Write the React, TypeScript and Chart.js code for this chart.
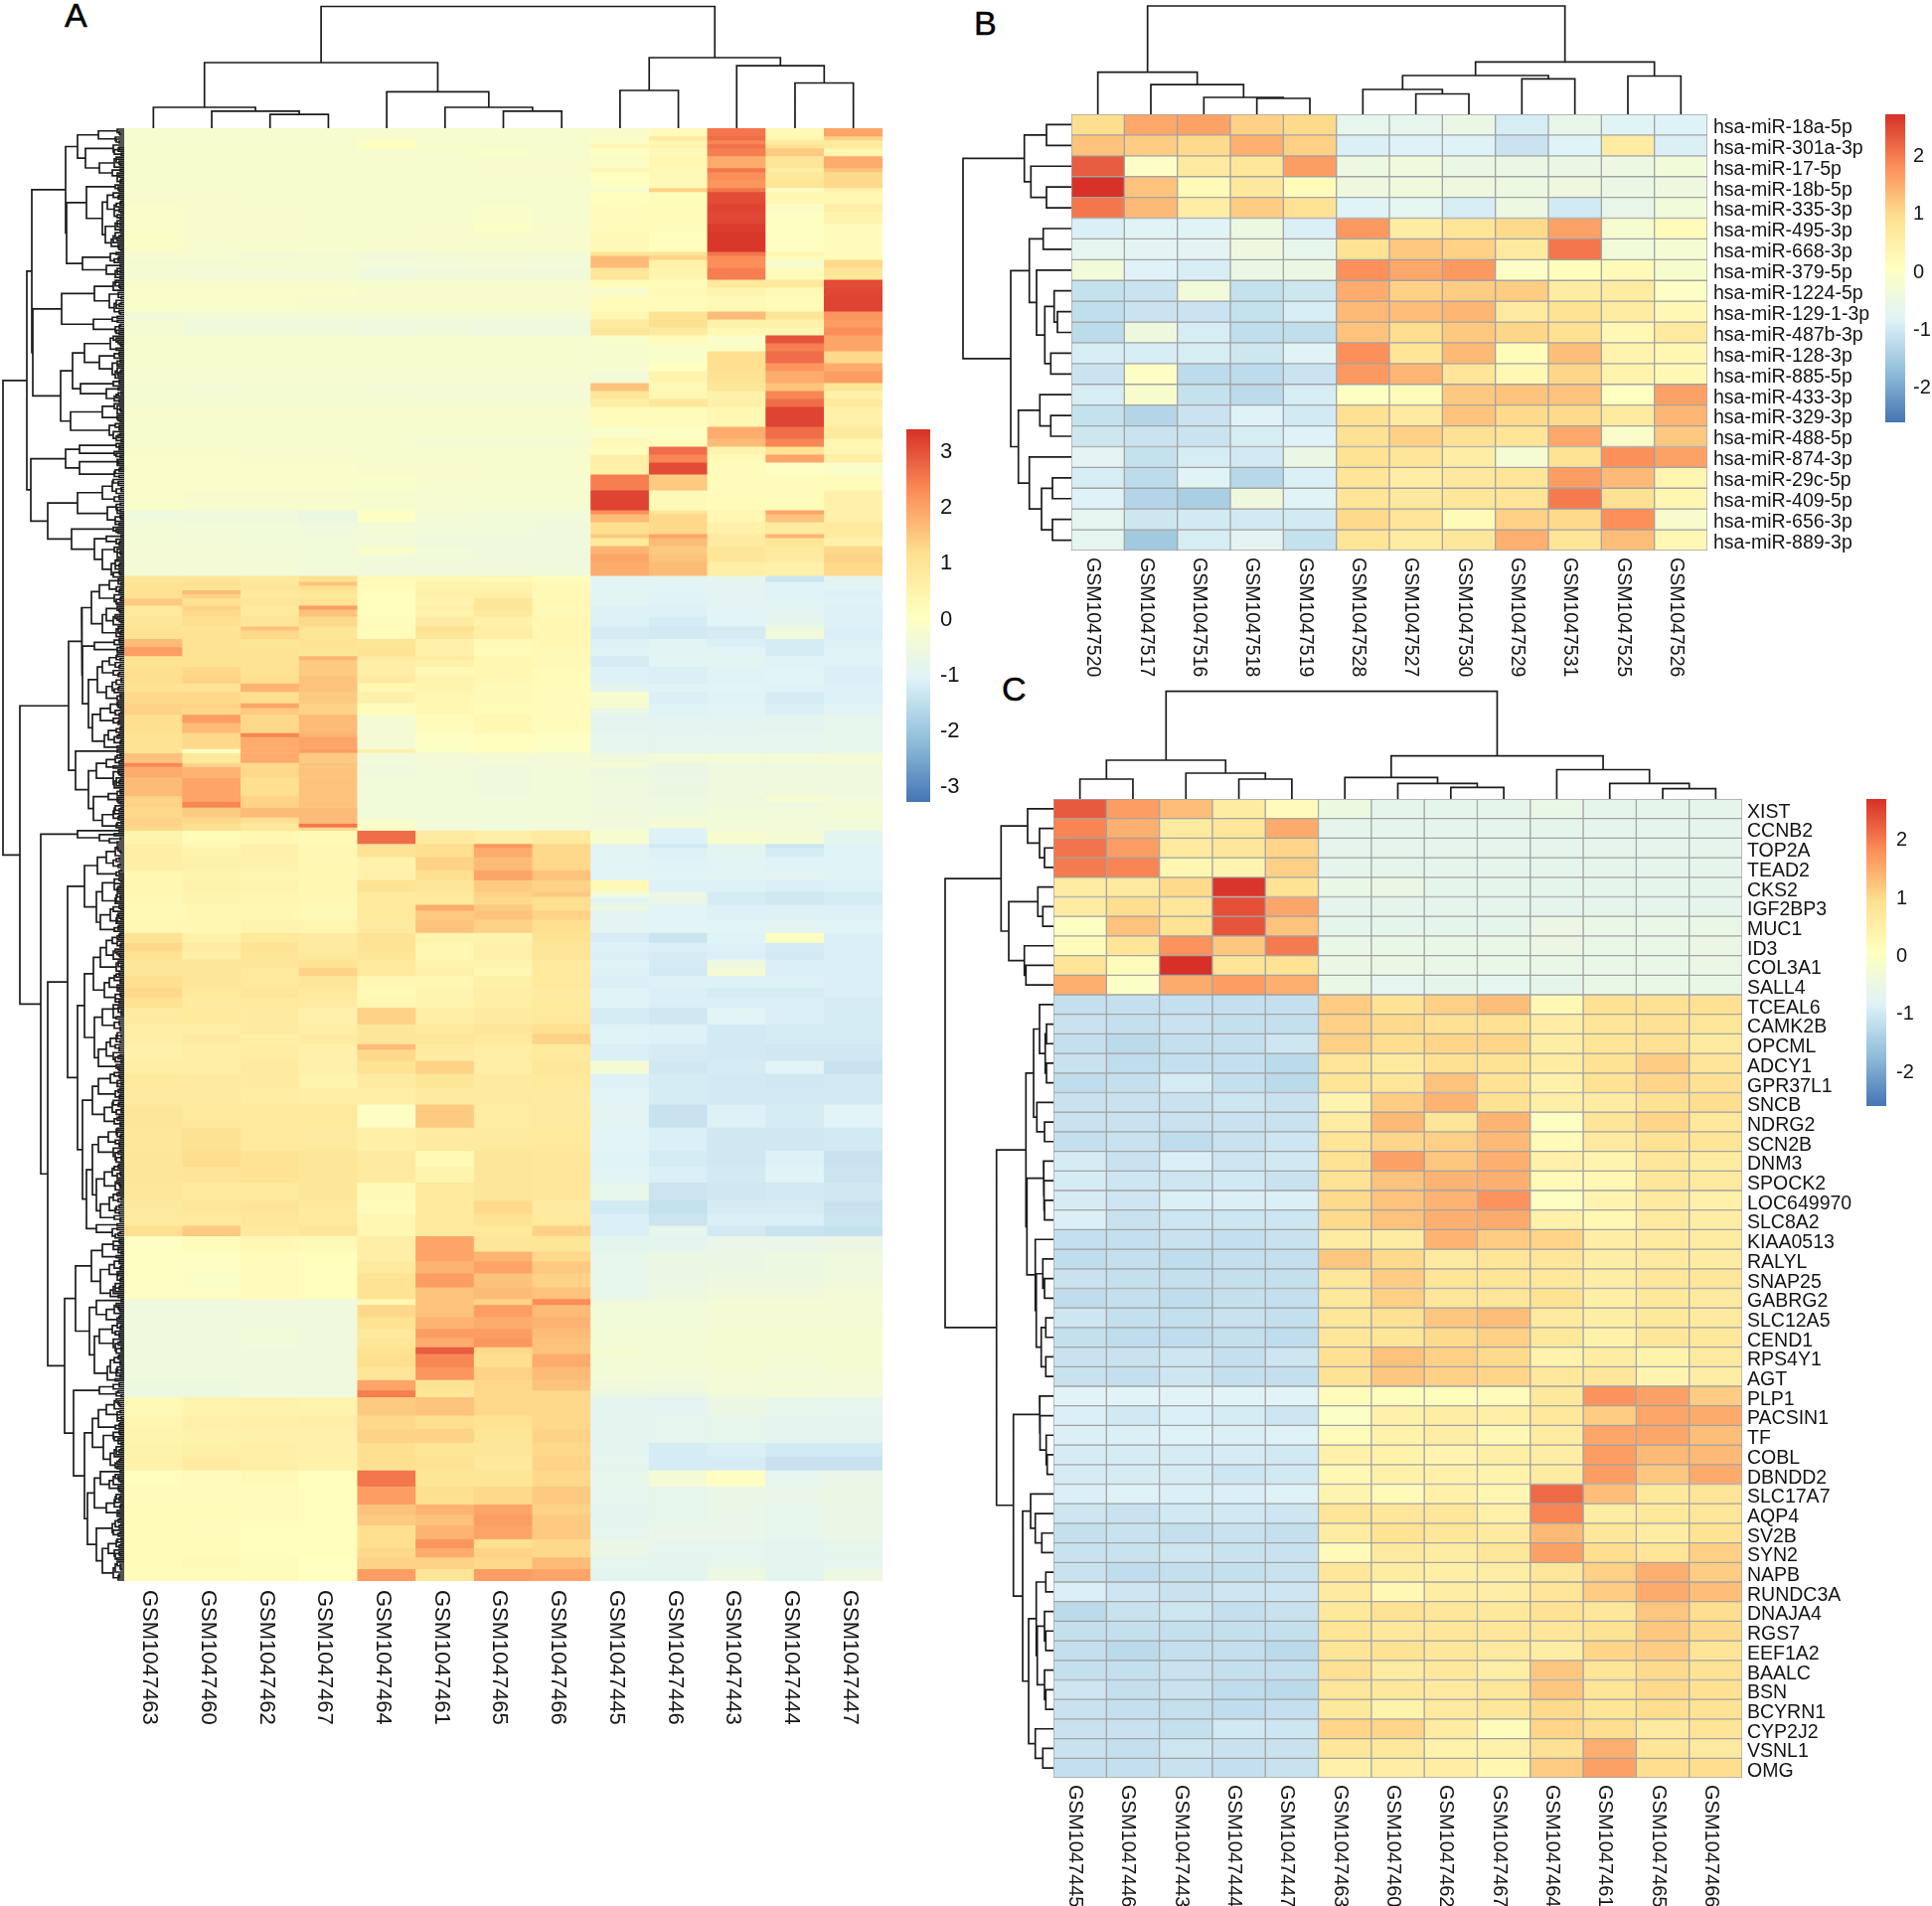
import React, { useEffect, useRef } from "react";
import { Chart, registerables } from "chart.js";
Chart.register(...registerables);

const FONT = '"Liberation Sans", Arial, sans-serif';
const PALETTE = ["#4575B4", "#91BFDB", "#E0F3F8", "#FFFFBF", "#FEE090", "#FC8D59", "#D73027"];

// ---------- Panel A ----------
const aColumns = ["GSM1047463","GSM1047460","GSM1047462","GSM1047467","GSM1047464","GSM1047461","GSM1047465","GSM1047466","GSM1047445","GSM1047446","GSM1047443","GSM1047444","GSM1047447"];
const aColumnGaps = [21,17.2,13.8,66,36.7,21,17.2,122.5,38,71,62.8,45.5];
// each band: [height in rows, 13 z-scores]
const aBandsUp = [
[2,-.3,-.3,-.3,-.3,-.3,-.3,-.3,-.3,-.25,.1,2.5,.2,1.9],
[1,-.3,-.3,-.3,-.3,-.2,-.3,-.3,-.3,-.1,.7,2.6,.3,1.3],
[1,-.3,-.3,-.3,-.3,-.1,-.3,-.3,-.3,-.15,.3,2.3,.7,.7],
[1,-.3,-.3,-.3,-.3,.05,-.2,-.3,-.3,.3,.4,2.55,1.0,.8],
[2,-.3,-.3,-.3,-.3,-.3,-.3,-.2,-.3,-.1,.2,2.4,1.4,.3],
[3,-.3,-.3,-.3,-.3,-.3,-.3,-.25,-.25,-.15,.3,1.8,.9,1.8],
[1,-.3,-.3,-.3,-.3,-.3,-.3,-.25,-.25,.3,.2,2.5,.6,1.5],
[2,-.3,-.3,-.3,-.3,-.3,-.3,-.25,-.25,.0,.2,2.2,.8,1.2],
[2,-.3,-.3,-.3,-.3,-.3,-.3,-.3,-.3,-.1,.2,2.1,.9,1.2],
[1,-.3,-.3,-.3,-.3,-.3,-.3,-.3,-.3,-.3,1.3,2.5,-.1,.5],
[3,-.25,-.25,-.3,-.3,-.3,-.3,-.3,-.3,.05,.1,3.0,.3,.3],
[2,-.2,-.25,-.25,-.3,-.3,-.3,-.2,-.3,.1,.15,3.1,-.15,.6],
[3,-.2,-.25,-.25,-.3,-.3,-.3,-.2,-.3,.1,.15,3.05,-.05,.4],
[2,-.2,-.25,-.25,-.3,-.3,-.25,-.1,-.25,.1,.1,3.2,-.05,.1],
[5,-.15,-.25,-.25,-.3,-.25,-.25,-.25,-.25,.2,.05,3.25,-.1,.1],
[1,-.33,-.33,-.43,-.38,-.52,-.48,-.43,-.48,1.0,1.0,2.5,.3,.1],
[1,-.33,-.33,-.43,-.38,-.52,-.48,-.43,-.48,1.6,1.3,2.2,.1,.1],
[2,-.38,-.38,-.38,-.38,-.48,-.48,-.43,-.48,1.6,.5,2.2,-.3,1.2],
[3,-.38,-.43,-.43,-.43,-.58,-.52,-.52,-.52,.9,.4,2.4,.1,.9],
[2,-.25,-.25,-.25,-.25,-.3,-.3,-.3,-.3,.15,.1,.8,.8,3.0],
[2,-.2,-.2,-.2,-.2,-.25,-.25,-.25,-.25,-.25,.2,.4,.2,3.05],
[4,-.2,-.2,-.2,-.25,-.25,-.25,-.25,-.25,.1,.1,.2,.15,3.1],
[2,-.52,-.48,-.48,-.48,-.48,-.48,-.48,-.48,.3,1.0,1.6,.9,2.1],
[2,-.38,-.52,-.52,-.52,-.58,-.52,-.58,-.58,.7,1.1,.5,.5,2.0],
[2,-.38,-.52,-.52,-.52,-.58,-.52,-.58,-.58,.9,.7,.3,.3,2.2],
[2,-.3,-.3,-.3,-.3,-.3,-.3,-.3,-.3,-.2,.1,-.2,2.9,1.9],
[2,-.3,-.3,-.3,-.3,-.3,-.3,-.3,-.3,-.3,-.2,-.1,2.4,1.9],
[3,-.3,-.3,-.3,-.3,-.3,-.3,-.3,-.3,-.3,-.2,1.1,2.6,1.2],
[2,-.3,-.3,-.3,-.3,-.3,-.3,-.3,-.3,-.3,.0,1.1,2.1,1.8],
[3,-.33,-.33,-.33,-.33,-.33,-.33,-.33,-.33,-.48,.4,1.0,1.8,2.0],
[2,-.38,-.43,-.38,-.38,-.43,-.43,-.43,-.43,1.5,.2,.9,1.5,.9],
[2,-.38,-.38,-.38,-.38,-.38,-.43,-.43,-.43,.9,.3,.5,2.3,.5],
[2,-.38,-.38,-.38,-.38,-.38,-.38,-.38,-.38,.6,.9,.5,2.6,.8],
[5,-.25,-.25,-.25,-.25,-.25,-.25,-.25,-.25,.1,.1,.3,3.1,.5],
[3,-.3,-.3,-.3,-.3,-.3,-.3,-.3,-.3,-.2,-.1,1.8,2.6,.8],
[2,-.3,-.3,-.3,-.3,-.3,-.38,-.38,-.38,.2,.1,1.6,2.3,.3],
[2,-.25,-.25,-.25,-.25,-.3,-.3,-.3,-.3,.1,2.6,.4,1.0,.3],
[2,-.2,-.2,-.25,-.25,-.25,-.3,-.3,-.3,.6,2.3,.2,1.9,.6],
[3,-.2,-.2,-.2,-.2,-.25,-.25,-.25,-.25,.5,3.0,.1,-.1,-.2],
[4,-.2,-.2,-.2,-.2,-.2,-.25,-.3,-.3,2.4,1.4,.1,.1,.1],
[5,-.2,-.25,-.25,-.25,-.3,-.33,-.33,-.33,3.1,.2,.1,.1,.5],
[1,-.6,-.6,-.6,-.7,-.1,-.45,-.5,-.5,2.2,.9,.3,1.9,.5],
[2,-.6,-.6,-.6,-.7,-.1,-.45,-.5,-.5,1.6,1.2,.3,1.5,.5],
[3,-.45,-.5,-.5,-.55,-.45,-.5,-.5,-.55,1.1,1.2,.5,.7,.8],
[1,-.45,-.45,-.5,-.5,-.5,-.55,-.55,-.55,1.4,1.9,.7,1.7,.7],
[2,-.45,-.45,-.5,-.5,-.5,-.55,-.55,-.55,.8,1.6,.7,.9,.5],
[2,-.4,-.4,-.45,-.5,-.2,-.5,-.55,-.55,1.7,1.4,.9,.8,1.2],
[2,-.4,-.4,-.45,-.5,-.5,-.5,-.55,-.55,1.9,1.5,.9,.7,1.3],
[3.5,-.45,-.45,-.45,-.5,-.55,-.55,-.55,-.55,1.8,1.6,.6,.5,1.2],
];
const aBandsMid = [
[1.5,.9,.9,.8,1.1,.2,.3,.25,.1,-1,-.95,-.9,-1.4,-.95],
[1,1.0,1.1,.9,1.5,.1,.4,.4,.2,-1.05,-1.05,-1,-1.1,-1.05],
[1.1,1.0,.9,.9,1.1,.1,.4,.4,.2,-1.05,-1.05,-1,-1.1,-1.05],
[1,1.0,1.6,.8,.9,.05,.5,.5,.2,-1,-1.05,-1,-1.1,-1.15],
[1.1,1.0,1.3,.8,.8,.05,.5,.6,.2,-1,-1.05,-1,-1.1,-1.15],
[1.8,1.4,1.0,.9,1.0,.05,.4,.9,.3,-1,-1.1,-1,-1.05,-1.1],
[1,.8,1.3,.8,2.0,.05,.6,.9,.2,-1.15,-1.15,-1.05,-1,-1.15],
[1.75,.8,1.2,.8,1.5,.05,.4,.8,.2,-1.15,-1.15,-1.05,-1,-1.15],
[2.5,.9,1.1,.9,1.2,.1,.7,.5,.3,-1.15,-1.25,-1.05,-.85,-1.15],
[1,1,.9,1.5,.9,.1,1.1,.6,.3,-1.25,-1.35,-1.3,-.65,-1.2],
[2.1,1,1.0,1.2,.9,.1,.9,.6,.3,-1.25,-1.3,-1.25,-.5,-1.2],
[2.1,1.6,1.0,.9,1.0,.9,.5,.2,.3,-1.15,-1.05,-1.2,-1.25,-1.15],
[2.2,2.0,1.0,1.0,.9,1.0,.5,.15,.2,-1.1,-1,-1.05,-1.25,-1.1],
[1,1.0,1.0,1.0,1.7,.7,.7,.3,.2,-1.25,-1.05,-1,-1.1,-1.1],
[1.7,1.0,1.0,1.0,1.4,.6,.5,.3,.2,-1.25,-1.05,-1,-1.1,-1.1],
[2.2,1.1,1.2,1.0,1.4,.6,.2,.3,.15,-1.15,-1.2,-1.1,-1.05,-1.2],
[2,1.1,1.3,1.1,1.5,.7,.4,.3,.15,-1.15,-1.2,-1.1,-1.05,-1.2],
[2.1,1.0,.95,1.7,1.5,.3,.4,.2,.1,-.95,-1.1,-1.05,-1.1,-1.15],
[2.9,1.2,1.2,1.1,1.4,.5,.3,.2,.1,-.3,-1.2,-1.1,-1.25,-1.15],
[1.2,1.3,1.3,1.9,1.3,.1,.3,.15,.1,-.3,-1.1,-1.05,-1.2,-1.05],
[1.7,1.3,1.2,1.4,1.3,.1,.3,.15,.1,-.8,-1.1,-1.05,-1.2,-1.05],
[2,1.1,2.0,1.2,1.6,-.4,.1,.3,.1,-.95,-1,-1,-.95,-.85],
[2.6,1.1,1.6,1.2,1.6,-.4,.1,.3,.1,-.95,-1,-1,-.95,-.85],
[1,1.0,1.2,2.3,1.7,-.4,-.1,.05,-.1,-.9,-.9,-.9,-.9,-.85],
[3,1.0,1.2,1.8,1.9,-.4,-.1,.05,-.1,-.9,-.9,-.9,-.9,-.85],
[1,1.0,-.05,1.8,2.0,.5,-.1,.05,-.1,-.9,-.9,-.9,-.9,-.85],
[2.5,1.5,.8,1.8,1.4,-.5,-.45,-.45,-.45,-.55,-.5,-.45,-.45,-.4],
[1,2.3,1.3,1.2,1.5,-.55,-.5,-.55,-.5,-.3,-.7,-.6,-.6,-.55],
[2.75,1.8,1.7,1.2,1.5,-.55,-.5,-.55,-.5,-.65,-.7,-.6,-.6,-.55],
[4.6,1.6,1.9,1.1,1.5,-.5,-.5,-.55,-.5,-.6,-.7,-.6,-.55,-.6],
[1.4,1.3,1.9,1.3,1.5,-.5,-.5,-.5,-.5,-.6,-.65,-.55,-.3,-.5],
[1.5,1.3,2.3,1.3,1.5,-.5,-.5,-.5,-.5,-.6,-.65,-.55,-.6,-.5],
[2.5,1.2,1.4,1.6,1.6,-.5,-.5,-.5,-.5,-.55,-.6,-.5,-.5,-.45],
[1.5,1.3,1.2,1.1,1.6,-.3,-.5,-.5,-.5,-.55,-.5,-.5,-.5,-.5],
[1,1.3,1.1,.8,2.5,-.15,-.5,-.5,-.5,-.55,-.3,-.5,-.5,-.5],
[.8,1.2,1.1,.9,1.2,-.1,-.5,-.5,-.5,-.55,-1.1,-.5,-.5,-.5],
[3.3,.4,.15,.3,.2,2.6,.75,.6,.75,-.3,-1.15,-.3,-.4,-.95],
[1,.6,.3,.5,.25,1.0,1.1,2.1,1.2,-1,-1.35,-.95,-1.4,-1.1],
[2.3,.6,.4,.5,.25,1.0,1.1,1.8,1.2,-1,-1.15,-.95,-1.25,-1.1],
[3.3,.6,.5,.45,.3,.45,1.3,1.6,1.2,-1.05,-1.1,-1.05,-1.1,-1.1],
[2.5,.3,.4,.35,.3,.5,1.1,1.9,1.5,-1.05,-1.05,-1,-1,-1.1],
[2.9,.3,.45,.4,.3,1.0,.9,1.4,1.3,.2,-1.15,-1.15,-1.2,-1.15],
[1.3,.25,.4,.35,.3,.8,.8,1.3,1.4,-.5,-.7,-1.25,-1.35,-1.25],
[2,.25,.4,.35,.3,.8,.8,1.2,1.1,-1,-.8,-1.25,-1.35,-1.25],
[1.5,.2,.3,.3,.2,.8,1.8,1.4,1.1,-.7,-1.05,-1.15,-1.15,-1.15],
[2.25,.2,.3,.3,.2,.8,1.4,1.5,1.3,-1,-1.05,-1.15,-1.15,-1.15],
[3.3,.25,.3,.4,.35,.7,1.5,1.3,1.1,-1,-1.05,-1.05,-1,-1.05],
[2.5,1.0,.5,.8,.7,1.0,.4,.4,1.0,-1.25,-1.4,-1.1,-.1,-1.2],
[2.2,1.2,.7,1.0,.7,1.0,.3,.5,.9,-1.15,-1.2,-1.15,-1.25,-1.2],
[2,1.0,.6,.9,.8,.9,.3,.5,.9,-1.2,-1.25,-1.2,-1.3,-1.2],
[2.1,.9,.9,.9,1.0,.8,.4,.4,.8,-1.1,-1.25,-.65,-1.2,-1.2],
[2.1,.9,.9,.8,1.3,.8,.5,.3,.8,-1.15,-1.3,-.4,-1.2,-1.2],
[3,1.1,.9,.8,.9,.3,.3,.55,.8,-1.2,-1.15,-1.15,-1.15,-1.2],
[2.4,1.2,.8,.9,.8,.2,.35,.6,.7,-1.1,-1.2,-1.25,-1.25,-1.2],
[2.5,1.0,.7,.8,.7,.3,.4,.6,.8,-1.1,-1.2,-1.2,-1.2,-1.25],
[4.2,.7,.8,.7,.5,1.3,.6,.7,.8,-1.25,-1.35,-1.05,-1.2,-1.25],
[2.5,.6,.6,.7,.6,.9,.8,.9,1.1,-1.1,-1.15,-1.3,-1.25,-1.25],
[2.5,.6,.7,.6,.7,.9,.9,.8,1.3,-1.1,-1.15,-1.3,-1.25,-1.25],
[1.4,.5,.6,.65,.5,1.6,.7,.6,.8,-1.2,-1.25,-1.3,-1.35,-1.35],
[2.8,.5,.6,.65,.5,1.2,.7,.6,.8,-1.2,-1.25,-1.3,-1.35,-1.35],
[3.3,.6,.6,.7,.5,1.0,1.3,.6,.85,-.4,-1.35,-1.25,-1.05,-1.45],
];
const aBandsLow = [
[3.7,.8,.7,.7,.4,.7,.9,.7,.8,-1.15,-1.25,-1.3,-1.35,-1.3],
[4,.7,.75,.65,.6,.6,.7,.75,.7,-1.05,-1.25,-1.3,-1.3,-1.3],
[5.8,.9,.8,.8,.8,-.1,1.4,.65,.75,-1,-1.45,-1.15,-1.25,-1.05],
[5.8,.85,1.05,.8,.75,.55,.7,.75,.8,-1.05,-1.2,-1.35,-1.35,-1.3],
[4,.9,1.15,1.0,.9,.7,.2,.9,.85,-1.1,-1.25,-1.35,-1.15,-1.45],
[4,.9,.95,1.0,.9,.75,.4,.9,.85,-1.05,-1.2,-1.3,-1.1,-1.4],
[4.6,.85,.8,.8,.9,.2,.8,.9,.85,-.85,-1.4,-1.35,-1.3,-1.35],
[3.3,.75,.85,.95,.8,.1,.8,1.2,.7,-1.3,-1.5,-1.25,-1.25,-1.45],
[3,.75,.8,.85,.8,.3,.8,1.0,.8,-1.2,-1.4,-1.2,-1.2,-1.4],
[2.6,1.1,1.4,.75,.9,.3,.8,.8,1.3,-1.2,-.85,-1.3,-1.45,-1.5],
[3.9,-.1,.1,.3,.2,.6,1.9,.9,.9,-.95,-.95,-.8,-.8,-.7],
[2.5,-.05,-.1,.1,.05,.6,1.9,1.7,1.2,-.85,-.7,-.7,-.65,-.6],
[3,-.05,-.1,.1,.05,.8,1.7,1.9,1.4,-.85,-.7,-.7,-.65,-.6],
[3.5,-.1,-.15,.1,.05,1.0,2.0,1.5,1.3,-.85,-.7,-.65,-.65,-.55],
[2.9,-.1,-.1,.1,.05,1.0,1.5,1.6,1.5,-.85,-.65,-.55,-.55,-.45],
[1.5,-.6,-.6,-.55,-.55,.3,1.5,1.3,2.2,-.55,-.55,-.45,-.45,-.45],
[3,-.6,-.6,-.55,-.55,1.2,1.5,2.0,1.6,-.5,-.5,-.4,-.4,-.4],
[3,-.6,-.6,-.55,-.55,1.0,1.7,1.8,1.7,-.5,-.5,-.4,-.4,-.4],
[2.3,-.6,-.55,-.5,-.55,.8,2.0,2.0,1.6,-.45,-.45,-.35,-.35,-.35],
[2.3,-.6,-.55,-.5,-.55,.9,1.8,2.1,1.5,-.45,-.45,-.35,-.35,-.35],
[1.7,-.55,-.55,-.55,-.55,1.0,2.8,1.2,1.5,-.35,-.45,-.4,-.4,-.35],
[3.3,-.6,-.6,-.55,-.55,1.1,2.3,1.1,1.8,-.45,-.45,-.35,-.45,-.35],
[3.3,-.6,-.6,-.55,-.55,.9,2.1,1.3,1.6,-.45,-.5,-.4,-.5,-.4],
[2.6,-.65,-.65,-.6,-.6,1.9,1.0,1.2,1.5,-.55,-.55,-.45,-.45,-.45],
[1.7,-.65,-.65,-.6,-.6,2.4,.9,1.2,1.2,-.7,-.65,-.5,-.5,-.5],
[4.6,.2,.4,.45,.4,1.4,1.5,1.2,1.2,-.95,-1,-.7,-.85,-.9],
[3.4,.35,.5,.55,.6,1.2,1.1,1.0,1.2,-.95,-.9,-.85,-.95,-.95],
[3.5,.4,.45,.5,.5,1.3,1.3,.9,1.3,-.95,-.9,-.85,-.95,-.95],
[3.4,.45,.55,.55,.5,1.1,.9,.9,1.2,-.95,-1.25,-1.2,-1.3,-1.3],
[3.5,.5,.7,.55,.5,1.1,1.0,.8,1.3,-.9,-1.25,-1.25,-1.45,-1.45],
[4,.05,.1,.2,.05,2.5,.9,.9,1.2,-.85,-.4,-.05,-.9,-.8],
[4.6,.1,.1,.1,.05,2.0,1.1,1.2,1.4,-.9,-.85,-.75,-.8,-.7],
[2.6,.15,.15,.1,.05,1.5,1.7,1.9,1.3,-.95,-.85,-.8,-.85,-.75],
[2.6,.15,.1,.1,.05,1.4,1.5,2.0,1.4,-.95,-.85,-.8,-.85,-.75],
[3.5,.15,.1,.05,.05,1.1,1.7,1.9,1.4,-.9,-.8,-.8,-.85,-.75],
[2.3,.1,.1,.05,.05,1.1,2.1,1.1,1.2,-.75,-.9,-.9,-.95,-.85],
[2.3,.1,.15,.05,.05,1.2,1.8,1.3,1.2,-.75,-.9,-.9,-.95,-.85],
[2.9,.15,.2,.1,0,1.3,1.3,1.2,1.6,-.9,-.95,-.85,-.95,-.9],
[3.1,.1,.1,.1,0,2.0,.9,2.0,1.9,-.95,-.95,-.65,-.95,-.65],
];
const aRowGapsTop = [
5,26,8,47,5,10,39,8,4,25,12,5,3,59,
6,38,5,17,4,10,3,7,22,4,9,19,3,7,13,5,58,
14,6,42,18,4,9,93,
9,4,30,6,15,3,8,5,63,12,31,5,8,92,
8,4,14,40,5,25,7,12,3,6,52,5,44,18,6,10,64,7,3,22,6,54,5,15,4,8,98,
5,45,8,59,6,45,5,10,94,
6,12,3,22,5,47,8,4,17,3,9,77,8,53,18,4,30,7,3,22,9,5,13,4,122,
];
const aRowGapsBottom = [
6,15,4,25,3,8,33,5,18,7,3,22,6,4,43,5,30,7,42,
8,15,4,22,5,27,3,12,6,18,4,36,6,14,3,24,5,32,4,16,7,3,20,56,49,
7,3,18,28,5,11,4,8,36,4,16,6,31,3,10,5,22,7,105,
47,25,15,84,
6,3,18,8,4,27,5,40,3,10,6,22,4,8,28,3,14,5,7,24,6,57,
5,12,3,18,7,4,24,6,3,31,8,4,15,5,20,3,9,40,6,3,11,22,5,4,30,3,8,14,5,18,4,9,26,6,47,
5,14,3,26,6,4,32,5,12,3,20,7,4,42,
8,3,16,5,26,4,9,3,32,6,12,3,20,5,4,28,7,3,15,5,9,24,4,38,28,12,6,77,
4,11,6,22,33,5,3,15,6,3,24,4,9,14,49,
28,6,4,18,5,35,3,12,5,25,4,9,3,30,6,4,14,3,8,17,60,
5,25,8,51,6,4,18,7,3,26,5,32,4,10,6,21,3,8,14,5,9,40,
24,6,3,15,5,30,4,9,3,18,5,37,6,3,12,4,28,7,3,16,5,9,22,4,3,11,5,
];
// merge heights of the densest leaf pairs in the fringe of the row tree
const aLeafPairHeights = [7,4,9,5,11,6,3,8,5,10,4,7];
const aTicks = [3,2,1,0,-1,-2,-3];

// ---------- Panel B ----------
const bColumns = ["GSM1047520","GSM1047517","GSM1047516","GSM1047518","GSM1047519","GSM1047528","GSM1047527","GSM1047530","GSM1047529","GSM1047531","GSM1047525","GSM1047526"];
const bRows = ["hsa-miR-18a-5p","hsa-miR-301a-3p","hsa-miR-17-5p","hsa-miR-18b-5p","hsa-miR-335-3p","hsa-miR-495-3p","hsa-miR-668-3p","hsa-miR-379-5p","hsa-miR-1224-5p","hsa-miR-129-1-3p","hsa-miR-487b-3p","hsa-miR-128-3p","hsa-miR-885-5p","hsa-miR-433-3p","hsa-miR-329-3p","hsa-miR-488-5p","hsa-miR-874-3p","hsa-miR-29c-5p","hsa-miR-409-5p","hsa-miR-656-3p","hsa-miR-889-3p"];
const bValues = [
[.9,1.5,1.55,1.05,.95,-.7,-.7,-.6,-1,-.65,-.85,-.9],
[1.2,1.1,.95,1.4,1.05,-.95,-.9,-.9,-1.15,-.85,.55,-.95],
[2.25,-.1,.6,.7,1.6,-.55,-.45,-.6,-.6,-.6,-.55,-.4],
[2.65,1.2,.15,.65,.1,-.5,-.45,-.5,-.55,-.5,-.6,-.5],
[2.0,1.3,.5,1.1,.8,-.85,-.75,-1,-.55,-1.05,-.65,-.4],
[-.95,-.85,-.85,-.55,-.95,1.65,.55,.75,.95,1.55,-.25,.1],
[-.75,-.8,-.8,-.5,-.7,.8,1.15,1.05,.6,2.0,-.4,-.3],
[-.4,-.9,-1.0,-.6,-.6,1.75,1.5,1.65,-.1,.05,.15,-.2],
[-1.2,-1.15,-.4,-1.2,-1.1,1.45,1.05,1.1,1.1,.55,.55,-.1],
[-1.25,-1.15,-1.15,-1.2,-1.0,1.3,1.25,1.35,.6,.8,.55,.2],
[-1.3,-.5,-1.0,-1.25,-1.25,1.2,.9,1.15,1.0,.85,.2,.6],
[-1.0,-1.0,-1.0,-1.1,-.85,1.75,.75,1.3,.1,1.25,.35,.25],
[-1.15,-.1,-1.3,-1.3,-1.15,1.65,1.35,.75,.2,1.0,.35,.2],
[-1.0,-.2,-1.2,-1.3,-1.0,-.05,.1,1.15,1.2,1.2,.0,1.55],
[-1.2,-1.4,-1.15,-.9,-1.05,.85,.6,1.2,.95,.95,.6,1.35],
[-1.1,-1.15,-1.15,-1.0,-.9,.85,1.05,.85,.75,1.5,-.15,1.15],
[-.8,-1.2,-1.0,-1.05,-.6,.8,.75,.5,-.3,.8,1.75,1.55],
[-1.0,-1.3,-.85,-1.35,-.95,.75,.5,.65,.75,1.6,1.3,.3],
[-.9,-1.4,-1.5,-.5,-.85,.75,.65,.7,.75,1.95,.85,.25],
[-.75,-1.1,-1.05,-1.05,-1.05,.95,.75,.15,1.05,.95,1.75,-.2],
[-.75,-1.6,-1.0,-.8,-1.2,.75,.55,.7,1.4,.75,1.25,.2],
];
const bColumnGaps = [42.4,29.9,17,16,109,25,20.5,39,35.7,52.7,38.5];
const bRowGaps = [25,47.3,40.7,25,109,28.3,42.3,35,17.3,14,26.7,20.7,61,31.7,20.7,53.3,42.3,19,30,19];
const bTicks = [2,1,0,-1,-2];

// ---------- Panel C ----------
const cColumns = ["GSM1047445","GSM1047446","GSM1047443","GSM1047444","GSM1047447","GSM1047463","GSM1047460","GSM1047462","GSM1047467","GSM1047464","GSM1047461","GSM1047465","GSM1047466"];
const cRows = ["XIST","CCNB2","TOP2A","TEAD2","CKS2","IGF2BP3","MUC1","ID3","COL3A1","SALL4","TCEAL6","CAMK2B","OPCML","ADCY1","GPR37L1","SNCB","NDRG2","SCN2B","DNM3","SPOCK2","LOC649970","SLC8A2","KIAA0513","RALYL","SNAP25","GABRG2","SLC12A5","CEND1","RPS4Y1","AGT","PLP1","PACSIN1","TF","COBL","DBNDD2","SLC17A7","AQP4","SV2B","SYN2","NAPB","RUNDC3A","DNAJA4","RGS7","EEF1A2","BAALC","BSN","BCYRN1","CYP2J2","VSNL1","OMG"];
const cValues = [
[2.25,1.6,1.25,.55,.1,-.52,-.7,-.7,-.7,-.62,-.7,-.7,-.7],
[1.85,1.4,.6,.7,1.45,-.7,-.7,-.7,-.7,-.7,-.7,-.7,-.7],
[2.0,1.6,.6,.7,1.0,-.7,-.7,-.7,-.7,-.7,-.7,-.7,-.7],
[1.95,1.85,.25,.3,1.05,-.7,-.7,-.7,-.7,-.7,-.7,-.7,-.7],
[.55,.6,.95,2.6,.8,-.62,-.56,-.7,-.7,-.7,-.7,-.7,-.7],
[.55,.9,.7,2.35,1.5,-.7,-.7,-.7,-.7,-.7,-.7,-.7,-.7],
[-.05,1.2,.8,2.3,1.2,-.7,-.7,-.7,-.7,-.58,-.62,-.62,-.62],
[.1,.75,1.7,1.15,1.95,-.62,-.62,-.62,-.62,-.58,-.62,-.62,-.58],
[.75,.1,2.65,.75,.8,-.58,-.58,-.62,-.62,-.62,-.62,-.62,-.58],
[1.4,-.1,1.45,1.6,1.4,-.62,-.75,-.7,-.75,-.7,-.62,-.62,-.62],
[-1.2,-1.2,-1.2,-1.2,-1.2,1.1,.8,1.05,1.25,.2,.85,.85,.85],
[-1.15,-1.2,-1.15,-1.2,-1.2,1.05,.95,.85,.85,.5,.75,.85,.7],
[-1.2,-1.3,-1.2,-1.2,-1.1,1.05,.9,1.0,1.0,.5,.75,.85,.6],
[-1.15,-1.25,-1.2,-1.2,-1.3,.75,.6,.85,.8,.55,.8,1.1,.75],
[-1.25,-1.2,-1,-1.2,-1.3,.75,.7,1.2,.8,.4,.8,1.0,.85],
[-1.15,-1.15,-1.15,-1.1,-1.15,.3,1.1,1.35,.85,.45,.55,.85,.9],
[-1.15,-1.15,-1.15,-1.15,-1.15,.55,1.3,.75,1.35,-.05,.75,1.0,.65],
[-1.2,-1.15,-1.25,-1.15,-1.1,.75,1.0,1.05,1.3,.15,.6,.8,.75],
[-1.0,-1.15,-.95,-1.1,-1.05,.8,1.55,1.15,1.4,.4,.3,.7,.55],
[-1,-1.1,-1.1,-1.05,-1.15,.8,1.2,1.35,1.4,.15,.2,.7,.6],
[-1,-1.1,-.95,-.95,-.95,.95,1.2,1.35,1.7,-.05,.3,.6,.4],
[-.95,-1.15,-1.1,-1.1,-1.1,.95,1.2,1.4,1.45,.4,.2,.6,.5],
[-1.2,-1.2,-1.15,-1.2,-1.15,.55,.55,1.35,1.1,1.0,.5,.6,.55],
[-1.25,-1.2,-1.25,-1.2,-1.2,1.15,.95,.6,.75,.7,.5,.6,.55],
[-1.15,-1.2,-1.2,-1.2,-1.2,.7,1.1,.75,.75,.65,.5,.7,.7],
[-1.25,-1.2,-1.25,-1.2,-1.2,.65,1.05,.7,.7,.8,.45,.65,.6],
[-1.1,-1.2,-1.2,-1.15,-1.2,.7,.85,1.15,1.25,.6,.5,.65,.6],
[-1.2,-1.25,-1.25,-1.2,-1.25,.7,.75,.95,1.05,.65,.4,.7,.65],
[-1.15,-1.15,-1.1,-1.2,-1.1,.85,1.2,1.05,.95,.35,.55,.35,.6],
[-1.15,-1.2,-1.1,-1.2,-1.2,.8,1.15,1.05,1.0,.65,.7,.3,.5],
[-.85,-.85,-.85,-.85,-.85,.1,.05,.05,.1,.65,1.7,1.55,1.1],
[-.95,-1.05,-.95,-1,-1.1,-.1,.4,.5,.45,.65,1.1,1.5,1.45],
[-.95,-.95,-.9,-.95,-.9,.1,.35,.5,.2,.55,1.5,1.5,1.25],
[-1,-1,-1,-1,-1.05,.4,.35,.3,.45,.5,1.6,1.3,1.3],
[-1,-1,-1,-1.1,-1.05,.2,.4,.4,.35,.55,1.6,1.15,1.45],
[-.95,-.9,-.95,-.95,-.9,.3,.15,.4,.25,2.1,1.25,.65,.75],
[-1.1,-1.15,-1.05,-1.05,-1.1,.75,.7,.7,.4,1.85,.55,.65,.7],
[-1.2,-1.15,-1.2,-1.15,-1.2,.55,.8,.7,.6,1.3,.7,.55,.8],
[-1.15,-1.15,-1.1,-1.15,-1.15,.15,.6,.55,.7,1.55,.9,.75,1.05],
[-1.15,-1.25,-1.2,-1.2,-1.15,.7,.55,.45,.5,.7,1.05,1.4,1.1],
[-.95,-1.1,-1.15,-1.1,-1.1,.6,.2,.5,.5,.75,1.1,1.45,1.25],
[-1.3,-1.15,-1.1,-1.2,-1.15,.65,.8,.7,.65,.8,.7,1.15,.9],
[-1.2,-1.2,-1.2,-1.2,-1.2,.75,.65,.7,.7,.7,.8,1.15,.95],
[-1.2,-1.3,-1.2,-1.2,-1.3,.75,.8,.7,.6,.5,1.0,1.1,.75],
[-1.2,-1.2,-1.15,-1.2,-1.2,.85,.55,.65,.45,1.15,.75,.95,.8],
[-1.1,-1.2,-1.15,-1.25,-1.3,.7,.65,.6,.7,1.15,.75,.95,.85],
[-1.15,-1.2,-1.2,-1.25,-1.2,.65,.35,.6,.7,.95,.75,.9,.8],
[-1.15,-1.15,-1.2,-1.05,-1.1,1.0,1.0,.55,.1,1.0,.9,.6,.75],
[-1.15,-1.2,-1.1,-1.15,-1.15,.7,.65,.35,.4,.85,1.4,.75,.6],
[-1.2,-1.2,-1.15,-1.2,-1.15,.4,.5,.5,.25,1.1,1.55,.9,.9],
];
const cColumnGaps = [20,39,26,20,108.4,21.7,15.6,11.7,43.4,29.5,15.6,10.4];
const cRowGaps = [26,14,9,52.7,15.7,10.7,45,29.3,27.7,109,14,7,8.3,7,20,16.7,9,27.7,10,9.5,9,26.7,18.3,10.7,9,17.3,7.7,12.3,7.7,57.3,14,13.5,7.3,6.3,40.3,23,18.3,11.7,31,7.7,17.3,9,7.7,16.3,9,7.7,25,18.3,10.7];
const cTicks = [2,1,0,-1,-2];

// ---------- helpers ----------
function hexToRgb(h: string) {
  return [1, 3, 5].map((i) => parseInt(h.slice(i, i + 2), 16));
}
function colorFor(v: number, range: number) {
  const t = Math.max(0, Math.min(1, (v + range) / (2 * range))) * (PALETTE.length - 1);
  const i = Math.min(PALETTE.length - 2, Math.floor(t));
  const a = hexToRgb(PALETTE[i]);
  const b = hexToRgb(PALETTE[i + 1]);
  const f = t - i;
  return `rgb(${a.map((c, k) => Math.round(c + (b[k] - c) * f)).join(",")})`;
}

function mergeLines(gaps: number[]) {
  const out: { pos: number; h: number }[] = [];
  const rec = (lo: number, hi: number): { p: number; h: number } => {
    if (lo === hi) return { p: lo + 0.5, h: 0 };
    let m = lo;
    for (let i = lo; i < hi; i++) if (gaps[i] > gaps[m]) m = i;
    const l = rec(lo, m);
    const r = rec(m + 1, hi);
    const H = gaps[m];
    out.push({ pos: l.p, h: l.h }, { pos: l.p, h: H }, { pos: r.p, h: H }, { pos: r.p, h: r.h }, { pos: NaN, h: NaN });
    return { p: (l.p + r.p) / 2, h: H };
  };
  rec(0, gaps.length);
  return out;
}

function dendroConfig(gaps: number[], leaves: number, extent: number, vertical: boolean) {
  const pts = mergeLines(gaps).map((q) => (vertical ? { x: q.pos, y: q.h } : { x: q.h, y: q.pos }));
  const hidden = { display: false };
  return {
    type: "scatter",
    data: { datasets: [{ data: pts, showLine: true, pointRadius: 0, borderColor: "#1c1c1c", borderWidth: 1.7, clip: false, borderCapStyle: "square" }] },
    options: {
      animation: false, responsive: false, layout: { padding: 0 },
      plugins: { legend: { display: false }, tooltip: { enabled: false } },
      scales: vertical
        ? { x: { ...hidden, type: "linear", min: 0, max: leaves }, y: { ...hidden, type: "linear", min: 0, max: extent } }
        : { x: { ...hidden, type: "linear", min: 0, max: extent, reverse: true }, y: { ...hidden, type: "linear", min: 0, max: leaves, reverse: true } },
    },
  };
}

function fixPadding(scale: any) {
  scale.paddingLeft = scale.paddingRight = scale.paddingTop = scale.paddingBottom = 0;
}

function heatConfig(opts: {
  columns: string[]; rowEdges: number[]; rowValues: number[][]; rowLabels?: string[]; range: number;
  border: number; colFont: number; rowFont: number; colPad: number; rowPad: number; colSpace: number; rowSpace: number; colOffset: number; rowOffset: number;
}) {
  const { columns, rowEdges, rowValues, rowLabels, range, border } = opts;
  const total = rowEdges[rowEdges.length - 1];
  return {
    type: "bar",
    data: {
      labels: columns,
      datasets: rowValues.map((vals, i) => ({
        data: vals.map(() => [rowEdges[i], rowEdges[i + 1]]),
        backgroundColor: vals.map((v) => colorFor(v, range)),
        borderColor: "#a3a3a3", borderWidth: border, borderSkipped: false,
        grouped: false, barPercentage: 1, categoryPercentage: 1,
      })),
    },
    options: {
      animation: false, responsive: false, layout: { padding: 0 },
      plugins: { legend: { display: false }, tooltip: { enabled: false } },
      scales: {
        x: {
          type: "category", position: "bottom", offset: true,
          grid: { display: false, drawTicks: false }, border: { display: false },
          ticks: { autoSkip: false, minRotation: -90, maxRotation: -90, padding: opts.colPad, labelOffset: opts.colOffset, color: "#151515", font: { family: FONT, size: opts.colFont } },
          afterFit: (s: any) => { s.height = opts.colSpace; fixPadding(s); s._getXAxisLabelAlignment = () => "left"; },
        },
        y: {
          type: "linear", position: "right", min: 0, max: total, reverse: true,
          grid: { display: false, drawTicks: false }, border: { display: false },
          afterBuildTicks: (s: any) => { s.ticks = rowLabels ? rowLabels.map((_, i) => ({ value: i + 0.5 })) : []; },
          ticks: { autoSkip: false, padding: opts.rowPad, labelOffset: opts.rowOffset, color: "#151515", font: { family: FONT, size: opts.rowFont }, callback: (v: number) => (rowLabels ? rowLabels[Math.floor(v)] : "") },
          afterFit: (s: any) => { s.width = opts.rowSpace; fixPadding(s); },
        },
      },
    },
  };
}

function legendConfig(range: number, tickValues: number[], font: number, pad: number, space: number) {
  return {
    type: "bar",
    data: {
      labels: [""],
      datasets: [{
        data: [[-range, range]], barPercentage: 1, categoryPercentage: 1, borderWidth: 0,
        backgroundColor: (ctx: any) => {
          const area = ctx.chart.chartArea;
          if (!area) return PALETTE[3];
          const g = ctx.chart.ctx.createLinearGradient(0, area.bottom, 0, area.top);
          PALETTE.forEach((c, i) => g.addColorStop(i / (PALETTE.length - 1), c));
          return g;
        },
      }],
    },
    options: {
      animation: false, responsive: false, layout: { padding: 0 },
      plugins: { legend: { display: false }, tooltip: { enabled: false } },
      scales: {
        x: { display: false, offset: true },
        y: {
          type: "linear", position: "right", min: -range, max: range,
          grid: { display: false, drawTicks: false }, border: { display: false },
          afterBuildTicks: (s: any) => { s.ticks = tickValues.map((v) => ({ value: v })); },
          ticks: { padding: pad, labelOffset: 4, color: "#151515", font: { family: FONT, size: font }, callback: (v: number) => String(v) },
          afterFit: (s: any) => { s.width = space; fixPadding(s); },
        },
      },
    },
  };
}

function Canvas({ left, top, width, height, make }: { left: number; top: number; width: number; height: number; make: () => any }) {
  const ref = useRef<HTMLCanvasElement>(null);
  useEffect(() => {
    const chart = new Chart(ref.current as any, make());
    return () => chart.destroy();
  }, []);
  return <canvas ref={ref} width={width} height={height} style={{ position: "absolute", left, top, width, height }} />;
}

function Letter({ text, left, top }: { text: string; left: number; top: number }) {
  return <div style={{ position: "absolute", left, top, font: `34px/34px ${FONT}`, color: "#000", WebkitTextStroke: "0.5px #000" }}>{text}</div>;
}

const aBands = [...aBandsUp, ...aBandsMid, ...aBandsLow];
const aEdges = aBands.reduce((acc: number[], b) => [...acc, acc[acc.length - 1] + b[0]], [0]);
const aRowGaps = [...aRowGapsTop, ...aRowGapsBottom].flatMap((g, i) => [aLeafPairHeights[i % aLeafPairHeights.length], g]);
aRowGaps.push(6);
const unitEdges = (n: number) => Array.from({ length: n + 1 }, (_, i) => i);

export default function App() {
  return (
    <div style={{ position: "absolute", left: 0, top: 0, width: 1944, height: 1918, background: "#fff", overflow: "hidden" }}>
      <Letter text="A" left={65} top={-2} />
      <Letter text="B" left={980} top={6} />
      <Letter text="C" left={1008} top={676} />

      {/* Panel A */}
      <Canvas left={125} top={0} width={763} height={129} make={() => dendroConfig(aColumnGaps, aColumns.length, 129, true)} />
      <Canvas left={0} top={129} width={125} height={1462} make={() => dendroConfig(aRowGaps, aRowGaps.length + 1, 125, false)} />
      <Canvas left={125} top={129} width={763} height={1651} make={() => heatConfig({
        columns: aColumns, rowEdges: aEdges, rowValues: aBands.map((b) => b.slice(1)), range: 3.33, border: 0,
        colFont: 22, rowFont: 10, colPad: 9, rowPad: 0, colSpace: 189, rowSpace: 0, colOffset: -4, rowOffset: 0,
      })} />
      <Canvas left={912} top={432} width={64} height={375} make={() => legendConfig(3.33, aTicks, 22, 10, 40)} />

      {/* Panel B */}
      <Canvas left={1078} top={0} width={640} height={115} make={() => dendroConfig(bColumnGaps, bColumns.length, 115, true)} />
      <Canvas left={960} top={115} width={118} height={439} make={() => dendroConfig(bRowGaps, bRows.length, 118, false)} />
      <Canvas left={1078} top={115} width={640 + 178} height={439 + 145} make={() => heatConfig({
        columns: bColumns, rowEdges: unitEdges(bRows.length), rowValues: bValues, rowLabels: bRows, range: 2.67, border: 1,
        colFont: 19.5, rowFont: 19.5, colPad: 7, rowPad: 6, colSpace: 145, rowSpace: 178, colOffset: -5, rowOffset: 3,
      })} />
      <Canvas left={1897} top={115} width={47} height={310} make={() => legendConfig(2.67, bTicks, 20, 8, 27)} />

      {/* Panel C */}
      <Canvas left={1060} top={670} width={693} height={134} make={() => dendroConfig(cColumnGaps, cColumns.length, 134, true)} />
      <Canvas left={945} top={804} width={115} height={985} make={() => dendroConfig(cRowGaps, cRows.length, 115, false)} />
      <Canvas left={1060} top={804} width={693 + 120} height={985 + 129} make={() => heatConfig({
        columns: cColumns, rowEdges: unitEdges(cRows.length), rowValues: cValues, rowLabels: cRows, range: 2.65, border: 1,
        colFont: 20, rowFont: 19.5, colPad: 7, rowPad: 5, colSpace: 129, rowSpace: 120, colOffset: -5, rowOffset: 3.5,
      })} />
      <Canvas left={1878} top={804} width={66} height={309} make={() => legendConfig(2.65, cTicks, 20, 10, 46)} />
    </div>
  );
}
